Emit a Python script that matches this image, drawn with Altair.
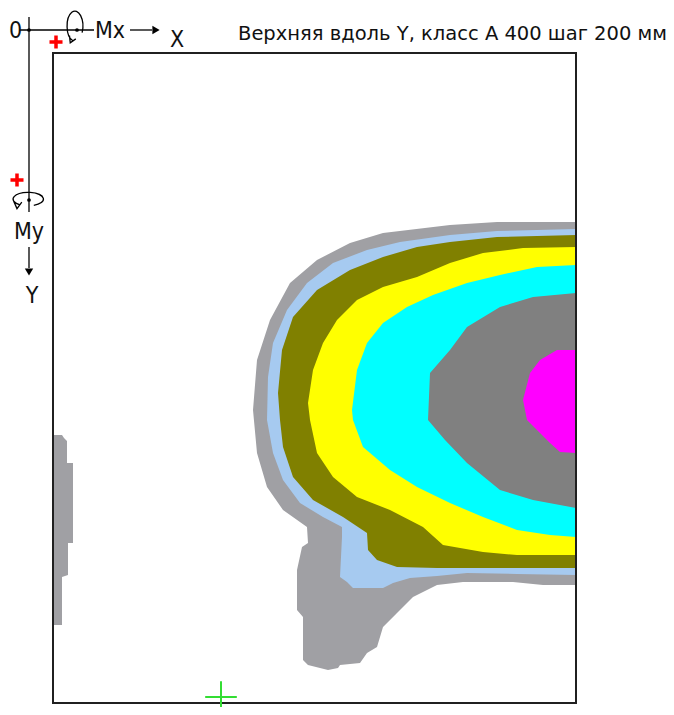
import altair as alt
import pandas as pd

# ---- slab outline (units: drawing units, origin at slab top-left, y down)
slab_w, slab_h = 523, 650

# ---- contour zones, outer to inner (boundary vertices)
zone_names = ["зона 1", "зона 2", "зона 3", "зона 4", "зона 5", "зона 6", "зона 7", "зона 1b"]
zone_colors = ["#A0A0A4", "#A6CAF0", "#808000", "#FFFF00", "#00FFFF", "#808080", "#FF00FF", "#A0A0A4"]

zone1 = [(523,169),(444,169),(397,172),(330,180),(297,190),(264,207),(237,230),(217,267),
         (204,307),(200,357),(204,400),(214,434),(230,457),(254,474),(255,490),(249,494),
         (244,517),(244,557),(250,564),(250,607),(255,612),(275,617),(285,615),(287,612),
         (307,610),(314,600),(324,594),(330,574),(344,560),(360,544),(384,532),(410,529),
         (460,529),(490,532),(523,532)]
zone2 = [(523,176),(444,178),(397,182),(347,189),(314,197),(280,210),(254,230),(234,257),
         (220,290),(215,324),(214,367),(220,400),(230,427),(247,450),(270,464),(289,474),
         (289,484),(287,524),(294,529),(300,535),(330,535),(340,530),(357,525),(384,523),
         (414,520),(464,521),(523,522)]
zone3 = [(523,182),(444,184),(397,189),(364,194),(330,204),(297,217),(264,237),(240,264),
         (229,297),(225,340),(227,367),(230,394),(240,424),(260,447),(290,464),(314,480),
         (315,497),(324,507),(344,514),(384,515),(523,515)]
zone4 = [(523,194),(470,195),(430,200),(397,210),(364,224),(330,234),(304,247),(284,267),
         (270,290),(260,317),(255,350),(257,367),(264,400),(280,424),(304,444),(337,457),
         (370,474),(390,492),(430,499),(464,502),(523,502)]
zone5 = [(523,212),(484,214),(447,222),(414,230),(380,242),(354,254),(330,270),(314,290),
         (304,317),(299,357),(300,367),(310,394),(337,417),(364,434),(397,450),(430,464),
         (464,477),(497,482),(523,484)]
zone6 = [(523,240),(480,244),(447,254),(414,274),(397,297),(377,320),(375,367),(392,387),
         (414,410),(447,437),(480,447),(523,455)]
zone7 = [(523,297),(504,297),(487,307),(477,320),(470,347),(474,367),(484,377),(497,390),
         (507,399),(523,400)]
zone1b = [(0,382),(9,382),(11,385),(14,388),(14,410),(20,410),(20,490),(15,490),(15,522),
          (9,524),(9,572),(0,572)]
zones = [zone1, zone2, zone3, zone4, zone5, zone6, zone7, zone1b]

# ---- annotation texts and symbol anchors (drawing units)
title_text = "Верхняя вдоль Y, класс А 400  шаг 200 мм"
glyph_labels = ["0", "Mx", "X", "My", "Y"]
glyph_label_x = [-44, 42, 117, -24, -21]
glyph_label_y = [-15, -15, -6, 186, 250]
glyph_label_align = ["left", "left", "left", "center", "center"]

axis_lines = [(-24, -36, -24, 159), (-34, -23, 41, -23), (77, -23, 99, -23), (-24, 194, -24, 215)]
axis_dots = [(-24, -23), (24, -23), (-24, 147)]
arrow_right = [(103, -23)]
arrow_down = [(-24, 219)]
red_marks = [(3, -11), (-36, 127)]
green_mark = [(168, 644)]
loop_mx = [(22, -26)]
loop_my = [(-24, 146)]


def closed(pts):
    ring = [list(p) for p in pts]
    if ring[-1] != ring[0]:
        ring.append(ring[0])
    return ring


features = []
for name, pts in zip(zone_names, zones):
    features.append({"type": "Feature", "properties": {"zone": name},
                     "geometry": {"type": "Polygon", "coordinates": [closed(pts)]}})

frame_feature = [{"type": "Feature", "properties": {"zone": "frame"},
                  "geometry": {"type": "Polygon", "coordinates": [closed(
                      [(0, 0), (slab_w, 0), (slab_w, slab_h), (0, slab_h)])]}}]

zone_layer = alt.Chart(alt.Data(values=features)).mark_geoshape(strokeWidth=0).encode(
    fill=alt.Fill("properties.zone:N", scale=alt.Scale(domain=zone_names, range=zone_colors), legend=None)
)

frame_layer = alt.Chart(alt.Data(values=frame_feature)).mark_geoshape(
    filled=False, stroke="#202020", strokeWidth=2
)

lines_df = pd.DataFrame(axis_lines, columns=["x", "y", "x2", "y2"])
lines_layer = alt.Chart(lines_df).mark_rule(color="black", strokeWidth=1.3).encode(
    longitude="x:Q", latitude="y:Q", longitude2="x2:Q", latitude2="y2:Q"
)

dots_layer = alt.Chart(pd.DataFrame(axis_dots, columns=["x", "y"])).mark_point(
    filled=True, color="black", size=14, shape="circle", opacity=1
).encode(longitude="x:Q", latitude="y:Q")

arr_r = alt.Chart(pd.DataFrame(arrow_right, columns=["x", "y"])).mark_point(
    filled=True, color="black", size=70, shape="triangle-right", opacity=1
).encode(longitude="x:Q", latitude="y:Q")

arr_d = alt.Chart(pd.DataFrame(arrow_down, columns=["x", "y"])).mark_point(
    filled=True, color="black", size=70, shape="triangle-down", opacity=1
).encode(longitude="x:Q", latitude="y:Q")

plus_path = "M-1,0L1,0M0,-1L0,1"
red_layer = alt.Chart(pd.DataFrame(red_marks, columns=["x", "y"])).mark_point(
    shape=plus_path, filled=False, color="#FF0000", strokeWidth=3.5, size=170, opacity=1
).encode(longitude="x:Q", latitude="y:Q")

green_layer = alt.Chart(pd.DataFrame(green_mark, columns=["x", "y"])).mark_point(
    shape=plus_path, filled=False, color="#33DD33", strokeWidth=2, size=1000, opacity=1
).encode(longitude="x:Q", latitude="y:Q")

mx_path = "M0.45,0.35 A0.5,0.95 0 1,0 -0.15,0.85 M-0.35,0.55 L-0.3,1 L0.05,0.75"
my_path = "M0.3,0.4 A0.95,0.42 0 1,0 -0.6,0.35 M-0.95,0.15 L-0.75,0.6 L-0.45,0.2"
loop_mx_layer = alt.Chart(pd.DataFrame(loop_mx, columns=["x", "y"])).mark_point(
    shape=mx_path, filled=False, color="black", strokeWidth=1.3, size=1000, opacity=1
).encode(longitude="x:Q", latitude="y:Q")
loop_my_layer = alt.Chart(pd.DataFrame(loop_my, columns=["x", "y"])).mark_point(
    shape=my_path, filled=False, color="black", strokeWidth=1.3, size=1024, opacity=1
).encode(longitude="x:Q", latitude="y:Q")

labels_df = pd.DataFrame({"label": glyph_labels, "x": glyph_label_x, "y": glyph_label_y,
                          "align": glyph_label_align})
label_layers = []
for a in ["left", "center"]:
    label_layers.append(
        alt.Chart(labels_df).transform_filter(alt.datum.align == a).mark_text(
            align=a, baseline="alphabetic", fontSize=23,
            font="Liberation Sans Narrow, DejaVu Sans Condensed, Arial Narrow, sans-serif",
            color="#111111"
        ).encode(longitude="x:Q", latitude="y:Q", text="label:N")
    )

title_layer = alt.Chart(pd.DataFrame({"label": [title_text], "x": [185], "y": [-13]})).mark_text(
    align="left", baseline="alphabetic", fontSize=19.5, font="DejaVu Sans, Verdana, sans-serif",
    color="#111111"
).encode(longitude="x:Q", latitude="y:Q", text="label:N")

chart = alt.layer(
    zone_layer, frame_layer, lines_layer, dots_layer, arr_r, arr_d, red_layer, green_layer,
    loop_mx_layer, loop_my_layer, *label_layers, title_layer
).project(
    type="identity", scale=1, translate=[45, 45]
).properties(
    width=658, height=699, autosize="none", padding=0
).configure_view(strokeWidth=0)

chart.save("out.html", embed_options={"renderer": "svg", "actions": False})
